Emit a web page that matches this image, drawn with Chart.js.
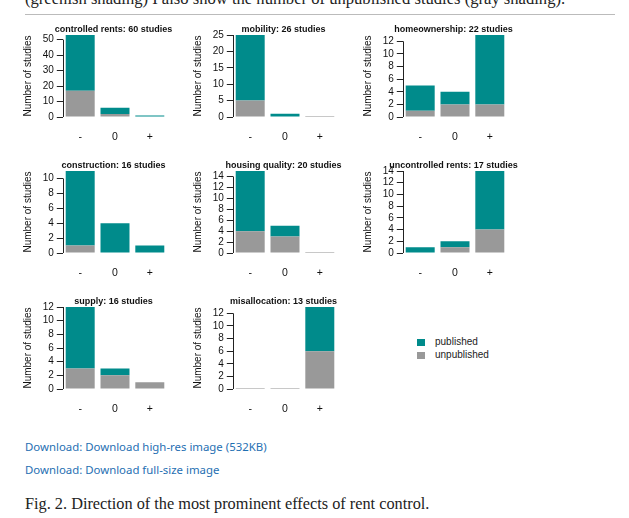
<!DOCTYPE html>
<html>
<head>
<meta charset="utf-8">
<script src="https://cdn.jsdelivr.net/npm/chart.js@4/dist/chart.umd.min.js"></script>
<style>
  body { margin: 0; background: #fff; }
  #page { position: relative; width: 629px; height: 518px; overflow: hidden; }
  canvas.panel { position: absolute; }
  .top-text { position: absolute; left: 25px; top: -11px; font: 16.6px 'Liberation Serif', serif; color: #222; white-space: nowrap; }
  .rule { position: absolute; left: 25px; top: 14px; width: 590px; height: 1px; background: #bbb; }
  .legend { position: absolute; left: 417px; top: 336px; font: 10px 'Liberation Sans', Arial, sans-serif; color: #222; }
  .legend div { height: 12.5px; line-height: 12.5px; white-space: nowrap; }
  .legend span { display: inline-block; width: 8px; height: 7px; margin-right: 10px; vertical-align: -1px; }
  .link { position: absolute; left: 25px; font: 11.4px 'Noto Sans', sans-serif; color: #1f6fb2; white-space: nowrap; }
  .caption { position: absolute; left: 25px; top: 494px; font: 16.3px 'Liberation Serif', serif; color: #222; white-space: nowrap; }
</style>
</head>
<body>
<div id="page">
  <div class="top-text">(greenish shading) I also show the number of unpublished studies (gray shading).</div>
  <div class="rule"></div>
  <div class="legend">
    <div><span style="background:#008b8b"></span>published</div>
    <div><span style="background:#999"></span>unpublished</div>
  </div>
  <div class="link" style="top:439px">Download: Download high-res image (532KB)</div>
  <div class="link" style="top:462px">Download: Download full-size image</div>
  <div class="caption">Fig. 2. Direction of the most prominent effects of rent control.</div>
</div>
<script>
const effects = ['-', '0', '+'];
const panelTitles = [
  'controlled rents: 60 studies', 'mobility: 26 studies', 'homeownership: 22 studies',
  'construction: 16 studies', 'housing quality: 20 studies', 'uncontrolled rents: 17 studies',
  'supply: 16 studies', 'misallocation: 13 studies'
];
const publishedStudies = [[36, 4, 1], [20, 1, 0], [4, 2, 11], [10, 4, 1], [11, 2, 0], [1, 1, 10], [9, 1, 0], [0, 0, 7]];
const unpublishedStudies = [[17, 2, 0], [5, 0, 0], [1, 2, 2], [1, 0, 0], [4, 3, 0], [0, 1, 4], [3, 2, 1], [0, 0, 6]];
const yTickSteps = [10, 5, 2, 2, 2, 2, 2, 2];

Chart.defaults.font.family = "'Liberation Sans', Arial, sans-serif";
Chart.defaults.color = '#111';

// R-style axis: line only from 0 to the last tick
const axisLine = {
  id: 'axisLine',
  afterDraw(chart) {
    const y = chart.scales.y;
    const ticks = y.ticks;
    const x = Math.round(chart.chartArea.left) + 0.5;
    const ctx = chart.ctx;
    ctx.save();
    ctx.strokeStyle = '#222';
    ctx.lineWidth = 1;
    ctx.beginPath();
    ctx.moveTo(x, y.getPixelForValue(ticks[0].value));
    ctx.lineTo(x, y.getPixelForValue(ticks[ticks.length - 1].value));
    ctx.stroke();
    ctx.restore();
  }
};

// empty bars still show a thin line on the baseline
const emptyBars = {
  id: 'emptyBars',
  afterDatasetsDraw(chart) {
    const meta = chart.getDatasetMeta(0);
    const y0 = Math.round(chart.scales.y.getPixelForValue(0)) - 0.5;
    const ctx = chart.ctx;
    ctx.save();
    ctx.strokeStyle = '#c8c8c8';
    ctx.lineWidth = 1;
    chart.data.labels.forEach((lab, i) => {
      const total = chart.data.datasets.reduce((s, d) => s + d.data[i], 0);
      if (total > 0) return;
      const bar = meta.data[i];
      ctx.beginPath();
      ctx.moveTo(bar.x - bar.width / 2, y0);
      ctx.lineTo(bar.x + bar.width / 2, y0);
      ctx.stroke();
    });
    ctx.restore();
  }
};

// title centred over the plot region, not over the canvas
const panelTitle = {
  id: 'panelTitle',
  afterDraw(chart, args, opts) {
    const ctx = chart.ctx;
    const area = chart.chartArea;
    ctx.save();
    ctx.font = "bold 9px 'Liberation Sans', Arial, sans-serif";
    ctx.fillStyle = '#111';
    ctx.textAlign = 'center';
    ctx.textBaseline = 'middle';
    ctx.fillText(opts.text, (area.left + area.right) / 2 - 1.5, area.top - 5.5);
    ctx.restore();
  }
};

const page = document.getElementById('page');

panelTitles.forEach((title, p) => {
  const col = p % 3, row = Math.floor(p / 3);
  const canvas = document.createElement('canvas');
  canvas.className = 'panel';
  canvas.width = 170;
  canvas.height = 136;
  canvas.style.left = (20 + 170 * col) + 'px';
  canvas.style.top = (20 + 136 * row) + 'px';
  page.appendChild(canvas);

  const pub = publishedStudies[p];
  const unpub = unpublishedStudies[p];
  const step = yTickSteps[p];
  const yMax = Math.max(...pub.map((v, i) => v + unpub[i]));

  new Chart(canvas, {
    type: 'bar',
    data: {
      labels: effects,
      datasets: [
        { label: 'unpublished', data: unpub, backgroundColor: '#999999' },
        { label: 'published', data: pub, backgroundColor: '#008b8b' }
      ]
    },
    options: {
      responsive: false,
      animation: false,
      devicePixelRatio: 1,
      categoryPercentage: 1,
      barPercentage: 0.833,
      layout: { padding: { left: 0, right: 22.8, top: 15, bottom: 0 } },
      plugins: {
        legend: { display: false },
        tooltip: { enabled: false },
        title: { display: false },
        panelTitle: { text: title }
      },
      scales: {
        x: {
          stacked: true,
          offset: true,
          grid: { display: false, drawTicks: false },
          border: { display: false },
          ticks: { padding: 14, font: { size: 10.5 } },
          afterFit(s) { s.height = 39; }
        },
        y: {
          stacked: true,
          min: 0,
          max: yMax,
          grid: { drawOnChartArea: false, drawTicks: true, tickLength: 6, color: '#222' },
          border: { display: false },
          ticks: { stepSize: step, includeBounds: false, autoSkip: false, padding: 3, font: { size: 10 } },
          title: {
            display: true,
            text: 'Number of studies',
            font: { size: 10 },
            padding: { top: 2, bottom: 0 }
          },
          afterBuildTicks(s) { s.ticks = s.ticks.filter(t => t.value % step === 0); },
          afterFit(s) { s.width = 42.8; }
        }
      }
    },
    plugins: [axisLine, emptyBars, panelTitle]
  });
});
</script>
</body>
</html>
